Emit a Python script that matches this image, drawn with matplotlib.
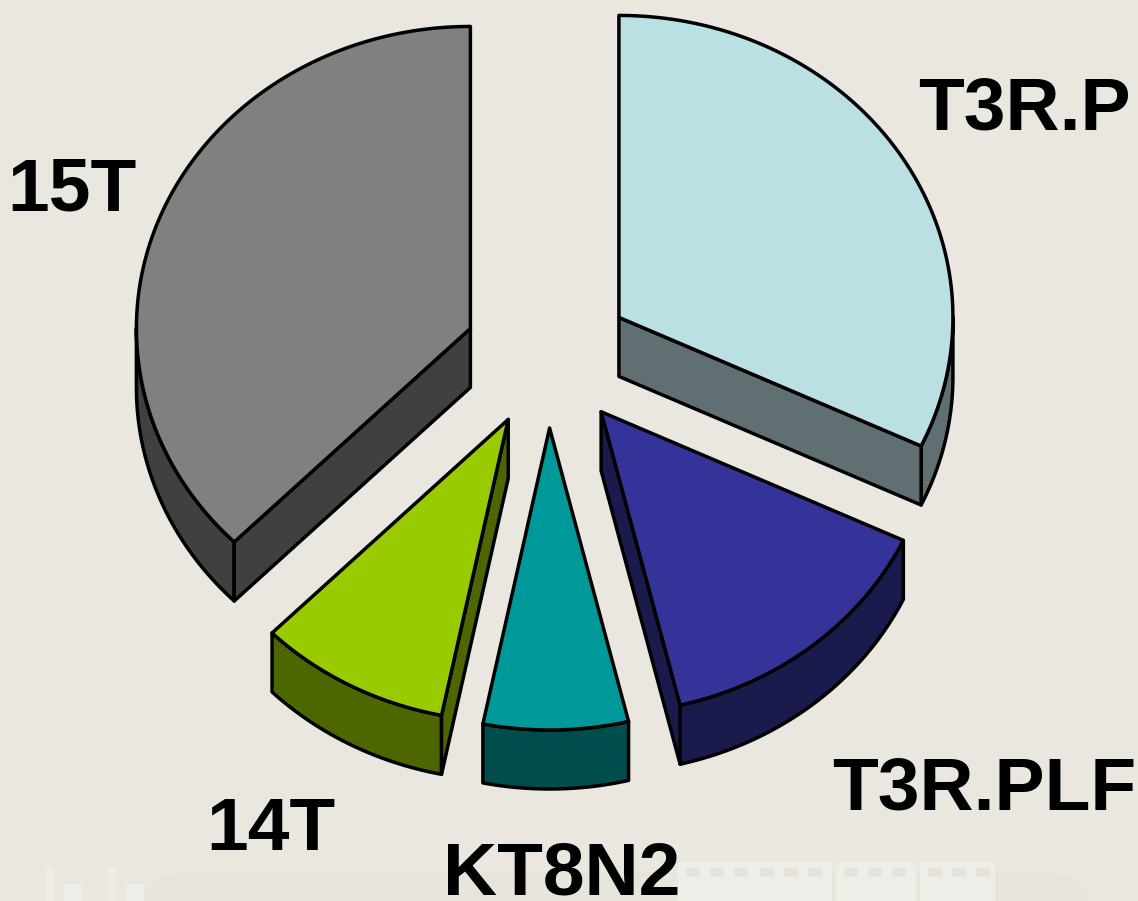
import numpy as np
import matplotlib
matplotlib.use("Agg")
import matplotlib.pyplot as plt
from matplotlib.patches import Polygon, Rectangle, FancyBboxPatch

labels = ["T3R.P", "T3R.PLF", "KT8N2", "14T", "15T"]
values = [32.0, 14.2, 7.0, 9.3, 37.5]
top_colors = ["#BAE0E3", "#333399", "#009999", "#99CC00", "#808080"]
side_colors = ["#607072", "#1A1A4D", "#004D4D", "#4D6600", "#404040"]
label_x = [1024, 984, 562, 271, 72]
label_y = [110, 790, 875, 831, 191]

# pie geometry in pixels
cx, cy = 548, 356
rx, ry = 334, 302
depth = 59
explode_x, explode_y = 84, 72
lw = 2.5
bg = "#EAE6E0"


def pt(ang, r=1.0):
    a = np.radians(ang)
    return np.column_stack((cx + rx * r * np.sin(a), cy - ry * r * np.cos(a)))


fig = plt.figure(figsize=(11.38, 9.01), dpi=100, facecolor=bg)
ax = fig.add_axes([0, 0, 1, 1])
ax.set_xlim(0, 1138)
ax.set_ylim(901, 0)
ax.axis("off")

# faint background watermark
ax.add_patch(FancyBboxPatch((140, 872), 950, 80, boxstyle="round,pad=0,rounding_size=50",
                            fc="#E8E5DC", ec="none", zorder=0))
for x0 in [678, 752, 836, 920]:
    ax.add_patch(Rectangle((x0, 862), 80 if x0 != 920 else 75, 39, fc="#EFEDE8", ec="none", zorder=0))
    for dx in [8, 32, 56]:
        ax.add_patch(Rectangle((x0 + dx, 868), 14, 9, fc="#E6E3DD", ec="none", zorder=0))
for x0 in [46, 108]:
    ax.add_patch(Rectangle((x0, 868), 8, 33, fc="#EFEDE8", ec="none", zorder=0))
    ax.add_patch(Rectangle((x0 + 18, 884), 18, 17, fc="#EFEDE8", ec="none", zorder=0))

start = 0.0
for name, val, ctop, cside, lx, ly in zip(labels, values, top_colors, side_colors, label_x, label_y):
    end = start + val / 100 * 360
    mid = np.radians((start + end) / 2)
    ox = explode_x * np.sin(mid)
    oy = -explode_y * np.cos(mid)
    apex = np.array([cx + ox, cy + oy])
    down = np.array([0, depth])

    # rim, only the part facing the viewer
    a0, a1 = max(start, 90), min(end, 270)
    if a1 > a0:
        arc = pt(np.linspace(a0, a1, 60)) + [ox, oy]
        rim = np.vstack((arc, (arc + down)[::-1]))
        ax.add_patch(Polygon(rim, closed=True, fc=cside, ec="black", lw=lw, joinstyle="round", zorder=2))

    # cut faces
    for ang, front in [(start, np.sin(np.radians(start)) < -1e-6), (end, np.sin(np.radians(end)) > 1e-6)]:
        if front:
            p = pt(ang)[0] + [ox, oy]
            face = np.array([apex, p, p + down, apex + down])
            ax.add_patch(Polygon(face, closed=True, fc=cside, ec="black", lw=lw, joinstyle="round", zorder=2))

    # top surface
    arc = pt(np.linspace(start, end, 120)) + [ox, oy]
    top = np.vstack((apex, arc))
    ax.add_patch(Polygon(top, closed=True, fc=ctop, ec="black", lw=lw, joinstyle="round", zorder=3))

    ax.text(lx, ly, name, ha="center", va="center", fontsize=54, fontweight="bold",
            family="Liberation Sans", color="black", zorder=4)
    start = end

fig.savefig("out.png", dpi=100, facecolor=bg)
